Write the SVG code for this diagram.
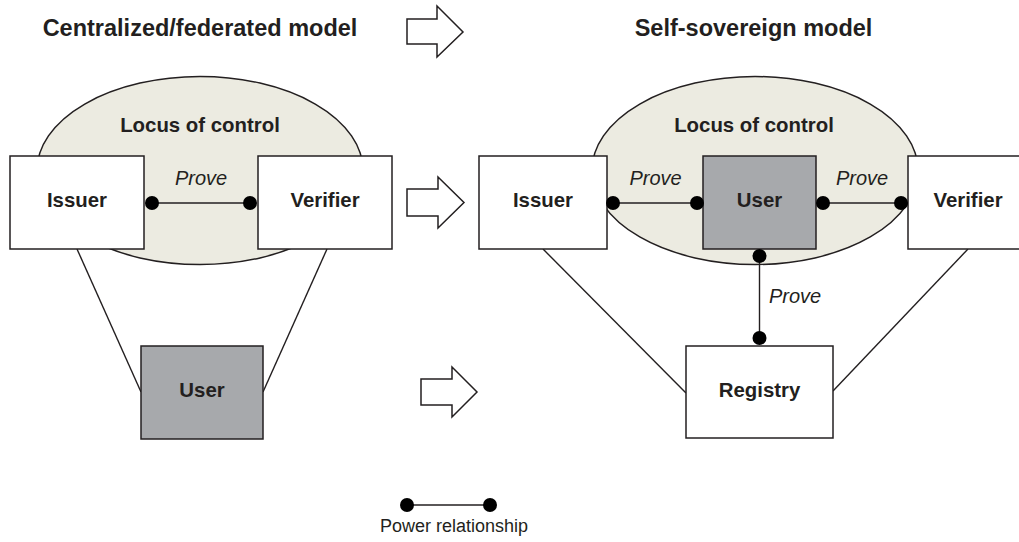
<svg xmlns="http://www.w3.org/2000/svg" width="1019" height="542" viewBox="0 0 1019 542">
<style>
text{font-family:"Liberation Sans",Arial,sans-serif;fill:#231f20;text-anchor:middle}
.title{font-size:23.5px;font-weight:bold}
.lbl{font-size:20.4px;font-weight:bold}
.prove{font-size:20px;font-style:italic}
.legend{font-size:18px}
.box{fill:#fff;stroke:#231f20;stroke-width:1.5}
.user{fill:#a7a9ac;stroke:#231f20;stroke-width:1.5}
.locus{fill:#ecebe1;stroke:#231f20;stroke-width:1.5}
.ln{stroke:#231f20;stroke-width:1.4;fill:none}
.dot{fill:#000}
.arrow{fill:#fff;stroke:#231f20;stroke-width:1.5;stroke-linejoin:miter}
</style>
<rect width="1019" height="542" fill="#fff"/>
<text class="title" x="200" y="36">Centralized/federated model</text>
<text class="title" x="753.5" y="36">Self-sovereign model</text>
<g id="transition-arrows">
<path class="arrow" d="M407,19 L437,19 L437,6 L463,32 L437,57 L437,44 L407,44 Z"/>
<path class="arrow" d="M407,189 L438,189 L438,177 L464,202.5 L438,228 L438,216 L407,216 Z"/>
<path class="arrow" d="M421,379 L452,379 L452,367 L477,392 L452,417 L452,405 L421,405 Z"/>
</g>
<g id="locus-left">
<ellipse class="locus" cx="200" cy="170.5" rx="163" ry="94"/>
<text class="lbl" x="200" y="132">Locus of control</text>
</g>
<g id="locus-right">
<ellipse class="locus" cx="755" cy="170.5" rx="163" ry="94"/>
<text class="lbl" x="754" y="132">Locus of control</text>
</g>
<g id="connectors">
<line class="ln" x1="77" y1="249" x2="141" y2="392"/>
<line class="ln" x1="327" y1="249" x2="263" y2="392"/>
<line class="ln" x1="543" y1="249" x2="686" y2="393"/>
<line class="ln" x1="968" y1="249" x2="833" y2="391"/>
<line class="ln" x1="152" y1="203" x2="250" y2="203"/>
<line class="ln" x1="613" y1="203" x2="697" y2="203"/>
<line class="ln" x1="823" y1="203" x2="901" y2="203"/>
<line class="ln" x1="759.5" y1="256" x2="759.5" y2="338"/>
<text class="prove" x="201" y="185">Prove</text>
<text class="prove" x="655.5" y="185">Prove</text>
<text class="prove" x="862" y="185">Prove</text>
<text class="prove" x="769" y="303" style="text-anchor:start">Prove</text>
</g>
<g id="left-issuer"><rect class="box" x="10" y="156" width="134" height="93"/><text class="lbl" x="77" y="207">Issuer</text></g>
<g id="left-verifier"><rect class="box" x="258" y="156" width="134" height="93"/><text class="lbl" x="325" y="207">Verifier</text></g>
<g id="left-user"><rect class="user" x="141" y="346" width="122" height="93"/><text class="lbl" x="202" y="397">User</text></g>
<g id="right-issuer"><rect class="box" x="479" y="156" width="128" height="93"/><text class="lbl" x="543" y="207">Issuer</text></g>
<g id="right-user"><rect class="user" x="703" y="156" width="113" height="93"/><text class="lbl" x="759.5" y="207">User</text></g>
<g id="right-verifier"><rect class="box" x="908" y="156" width="120" height="93"/><text class="lbl" x="968" y="207">Verifier</text></g>
<g id="registry"><rect class="box" x="686" y="346" width="147" height="92"/><text class="lbl" x="759.5" y="397">Registry</text></g>
<g id="connector-ends">
<circle class="dot" cx="152" cy="203" r="7"/>
<circle class="dot" cx="250" cy="203" r="7"/>
<circle class="dot" cx="613" cy="203" r="7"/>
<circle class="dot" cx="697" cy="203" r="7"/>
<circle class="dot" cx="823" cy="203" r="7"/>
<circle class="dot" cx="901" cy="203" r="7"/>
<circle class="dot" cx="759.5" cy="256" r="7"/>
<circle class="dot" cx="759.5" cy="338" r="7"/>
</g>
<g id="legend">
<line class="ln" x1="407" y1="505" x2="490" y2="505"/>
<circle class="dot" cx="407" cy="505" r="7"/>
<circle class="dot" cx="490" cy="505" r="7"/>
<text class="legend" x="454" y="532">Power relationship</text>
</g>
</svg>
